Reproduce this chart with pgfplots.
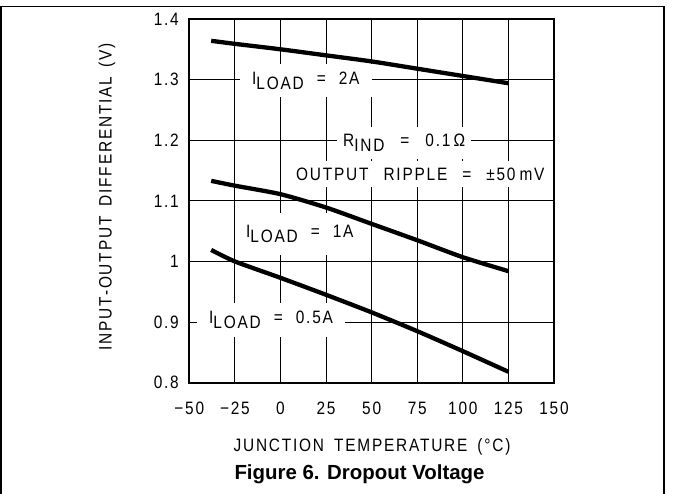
\documentclass[border=0pt]{standalone}
\usepackage{pgfplots}
\pgfplotsset{compat=1.18}
\usepackage{fontspec}
\setmainfont{Liberation Sans}
\newfontfamily\draft[FakeStretch=0.86,LetterSpace=10]{Liberation Sans}
\newcommand\dfont{\draft\fontsize{18}{18}\selectfont}
\newcommand\sub[1]{\raisebox{-0.28em}{#1}}
\newcommand\gap[1][13bp]{\hspace{#1}}  % wide word gap in the annotations
\newcommand\lgap{\hspace{10bp}}        % word gap in the axis titles

% dropout voltage versus junction temperature
\pgfplotstableread{
T     V
-38   1.364
-25   1.359
0     1.350
25    1.340
50    1.330
75    1.318
100   1.306
125   1.294
}\loadtwo
\pgfplotstableread{
T     V
-38   1.133
-25   1.125
0     1.111
25    1.089
50    1.062
75    1.035
100   1.007
125   0.984
}\loadone
\pgfplotstableread{
T     V
-38   1.019
-25   1.000
0     0.973
25    0.945
50    0.916
75    0.885
100   0.852
125   0.818
}\loadhalf

\begin{document}
\begin{tikzpicture}[x=1bp,y=1bp]
\path[use as bounding box] (0,0) rectangle (673,494);
% page frame
\draw[line width=1.5bp] (0.75,0) -- (0.75,487.5) -- (664,487.5) -- (664,0);

\begin{axis}[
  at={(189.3bp,111.3bp)}, anchor=south west,
  scale only axis, width=364.7bp, height=363.7bp,
  xmin=-50, xmax=150, ymin=0.8, ymax=1.4,
  xtick={-50,-25,0,25,50,75,100,125,150},
  xticklabels={−50,−25,0,25,50,75,100,125,150},
  ytick={0.8,0.9,1.0,1.1,1.2,1.3,1.4},
  yticklabels={0.8,0.9,1,1.1,1.2,1.3,1.4},
  major tick length=0,
  grid=major,
  grid style={black, line width=1.1bp},
  axis line style={line width=1.8bp},
  tick label style={font=\dfont},
  xticklabel style={yshift=-16bp},
  yticklabel style={xshift=-7bp},
  curve/.style={black, line width=4.3bp, smooth, tension=0.4},
]
\node[anchor=base west, fill=white, inner xsep=12bp, inner ysep=8bp, font=\dfont]
  at (axis cs:-22.2,1.2927) {I\sub{LOAD}\gap=\gap2A};
\node[anchor=base west, fill=white, inner xsep=6bp, inner ysep=7bp, font=\dfont]
  at (axis cs:31.0,1.1893) {R\sub{IND}\gap[16bp]=\gap[16bp]0.1\,Ω};
\node[anchor=base west, fill=white, inner xsep=6bp, inner ysep=7bp, font=\dfont]
  at (axis cs:5.2,1.1343) {OUTPUT\gap[15bp]RIPPLE\gap[15bp]=\gap[15bp]±50\hspace{4bp}mV};
\node[anchor=base west, fill=white, inner xsep=8bp, inner ysep=12bp, font=\dfont]
  at (axis cs:-23.3,1.0391) {I\sub{LOAD}\gap=\gap1A};
\node[anchor=base west, fill=white, inner xsep=12bp, inner ysep=8bp, font=\dfont]
  at (axis cs:-45.8,0.8978) {I\sub{LOAD}\gap=\gap0.5A};
\addplot[curve] table[x=T,y=V] {\loadtwo};
\addplot[curve] table[x=T,y=V] {\loadone};
\addplot[curve] table[x=T,y=V] {\loadhalf};
\end{axis}

\node[font=\dfont, rotate=90] at (107,297.5) {INPUT-OUTPUT\lgap DIFFERENTIAL\lgap(V)};
\node[font=\dfont] at (372,47) {JUNCTION\lgap TEMPERATURE\lgap(°C)};
\node[font=\bfseries\fontsize{20.5}{20.5}\selectfont] at (359.5,19.5) {Figure 6. Dropout Voltage};
\end{tikzpicture}
\end{document}
